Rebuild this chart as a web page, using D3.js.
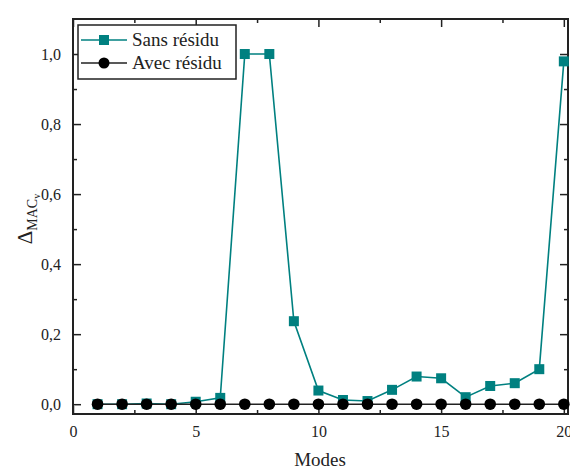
<!DOCTYPE html>
<html>
<head>
<meta charset="utf-8">
<script src="https://cdn.jsdelivr.net/npm/d3@7"></script>
<style>
  body { margin: 0; background: #fff; }
  svg text { font-family: "Liberation Serif", "DejaVu Serif", serif; }
</style>
</head>
<body>
<div id="chart"></div>
<script>
var modes = d3.range(1, 21);
var sansResidu = [0.000, 0.000, 0.002, 0.000, 0.007, 0.018, 1.000, 1.000, 0.237, 0.039,
                  0.012, 0.009, 0.041, 0.079, 0.074, 0.020, 0.052, 0.060, 0.100, 0.979];
var avecResidu = [0, 0, 0, 0, 0, 0, 0, 0, 0, 0, 0, 0, 0, 0, 0, 0, 0, 0, 0, 0];
var xTicks = [0, 5, 10, 15, 20];
var yTicks = [0, 0.2, 0.4, 0.6, 0.8, 1.0];
var seriesNames = ['Sans résidu', 'Avec résidu'];

var width = 570, height = 470,
  margin = { top: 19, right: 2, bottom: 56, left: 73 },
  teal = '#008080', ink = '#222';

var svg = d3.select('#chart').append('svg')
  .attr('width', width)
  .attr('height', height);

var x = d3.scaleLinear().domain([0, 20.17]).range([margin.left, width - margin.right]);
var y = d3.scaleLinear().domain([-0.028, 1.1]).range([height - margin.bottom, margin.top]);

var fmt = function(d) { return d3.format('.1f')(d).replace('.', ','); };
var xMinor = d3.range(2.5, 20, 5);
var yMinor = d3.range(0.1, 1.1, 0.2);

// ticks point inward on every side
function tickSet(axisFn, scale, major, minor, pos, labels) {
  var g = svg.append('g').attr('transform', pos);
  g.append('g').call(axisFn(scale).tickValues(minor).tickSize(-4).tickFormat(''));
  g.append('g').call(axisFn(scale).tickValues(major).tickSize(-8).tickPadding(12)
    .tickFormat(labels ? labels : ''));
  g.selectAll('.domain').remove();
  g.selectAll('g').attr('font-family', null);
  g.selectAll('line').attr('stroke', ink).attr('stroke-width', 1.5);
  g.selectAll('text').attr('fill', ink).style('font-size', '16px');
  return g;
}

var yb = height - margin.bottom, xr = width - margin.right;
tickSet(d3.axisBottom, x, xTicks, xMinor, 'translate(0,' + yb + ')', d3.format('d'));
tickSet(d3.axisTop, x, xTicks, xMinor, 'translate(0,' + margin.top + ')', null);
tickSet(d3.axisLeft, y, yTicks, yMinor, 'translate(' + margin.left + ',0)', fmt);
tickSet(d3.axisRight, y, yTicks, yMinor, 'translate(' + xr + ',0)', null);

// frame
svg.append('rect')
  .attr('x', margin.left).attr('y', margin.top)
  .attr('width', xr - margin.left).attr('height', yb - margin.top)
  .attr('fill', 'none').attr('stroke', ink).attr('stroke-width', 2);

var line = d3.line().x(function(d) { return x(d[0]); }).y(function(d) { return y(d[1]); });
var sansPts = modes.map(function(m, i) { return [m, sansResidu[i]]; });
var avecPts = modes.map(function(m, i) { return [m, avecResidu[i]]; });

svg.append('path').datum(sansPts).attr('d', line)
  .attr('fill', 'none').attr('stroke', teal).attr('stroke-width', 1.6);
svg.selectAll('rect.sq').data(sansPts).enter().append('rect')
  .attr('class', 'sq')
  .attr('x', function(d) { return x(d[0]) - 5; })
  .attr('y', function(d) { return y(d[1]) - 5; })
  .attr('width', 10).attr('height', 10)
  .attr('fill', teal);

svg.append('path').datum(avecPts).attr('d', line)
  .attr('fill', 'none').attr('stroke', ink).attr('stroke-width', 1.6);
svg.selectAll('circle.dot').data(avecPts).enter().append('circle')
  .attr('class', 'dot')
  .attr('cx', function(d) { return x(d[0]); })
  .attr('cy', function(d) { return y(d[1]); })
  .attr('r', 5.8)
  .attr('fill', '#000');

// legend
var lg = svg.append('g');
lg.append('rect').attr('x', 78).attr('y', 25).attr('width', 158).attr('height', 54)
  .attr('fill', '#fff').attr('stroke', ink).attr('stroke-width', 1.5);
seriesNames.forEach(function(name, i) {
  var cy = 40 + i * 23, col = i === 0 ? teal : ink;
  lg.append('line').attr('x1', 81).attr('x2', 127).attr('y1', cy).attr('y2', cy)
    .attr('stroke', col).attr('stroke-width', 1.6);
  if (i === 0) {
    lg.append('rect').attr('x', 99).attr('y', cy - 5).attr('width', 10).attr('height', 10).attr('fill', teal);
  } else {
    lg.append('circle').attr('cx', 104).attr('cy', cy).attr('r', 5.5).attr('fill', '#000');
  }
  lg.append('text').attr('x', 132).attr('y', cy + 6)
    .style('font-size', '19px').attr('fill', ink).text(name);
});

// axis titles
svg.append('text')
  .attr('x', 320).attr('y', 466)
  .attr('text-anchor', 'middle')
  .style('font-size', '19px').attr('fill', ink)
  .text('Modes');

var yl = svg.append('text')
  .attr('transform', 'translate(32,219) rotate(-90)')
  .attr('text-anchor', 'middle')
  .attr('fill', ink);
yl.append('tspan').style('font-size', '21px').text('Δ');
yl.append('tspan').attr('dy', 5).style('font-size', '14px').text('MAC');
yl.append('tspan').attr('dy', 3).style('font-size', '10px').text('v');
</script>
</body>
</html>
